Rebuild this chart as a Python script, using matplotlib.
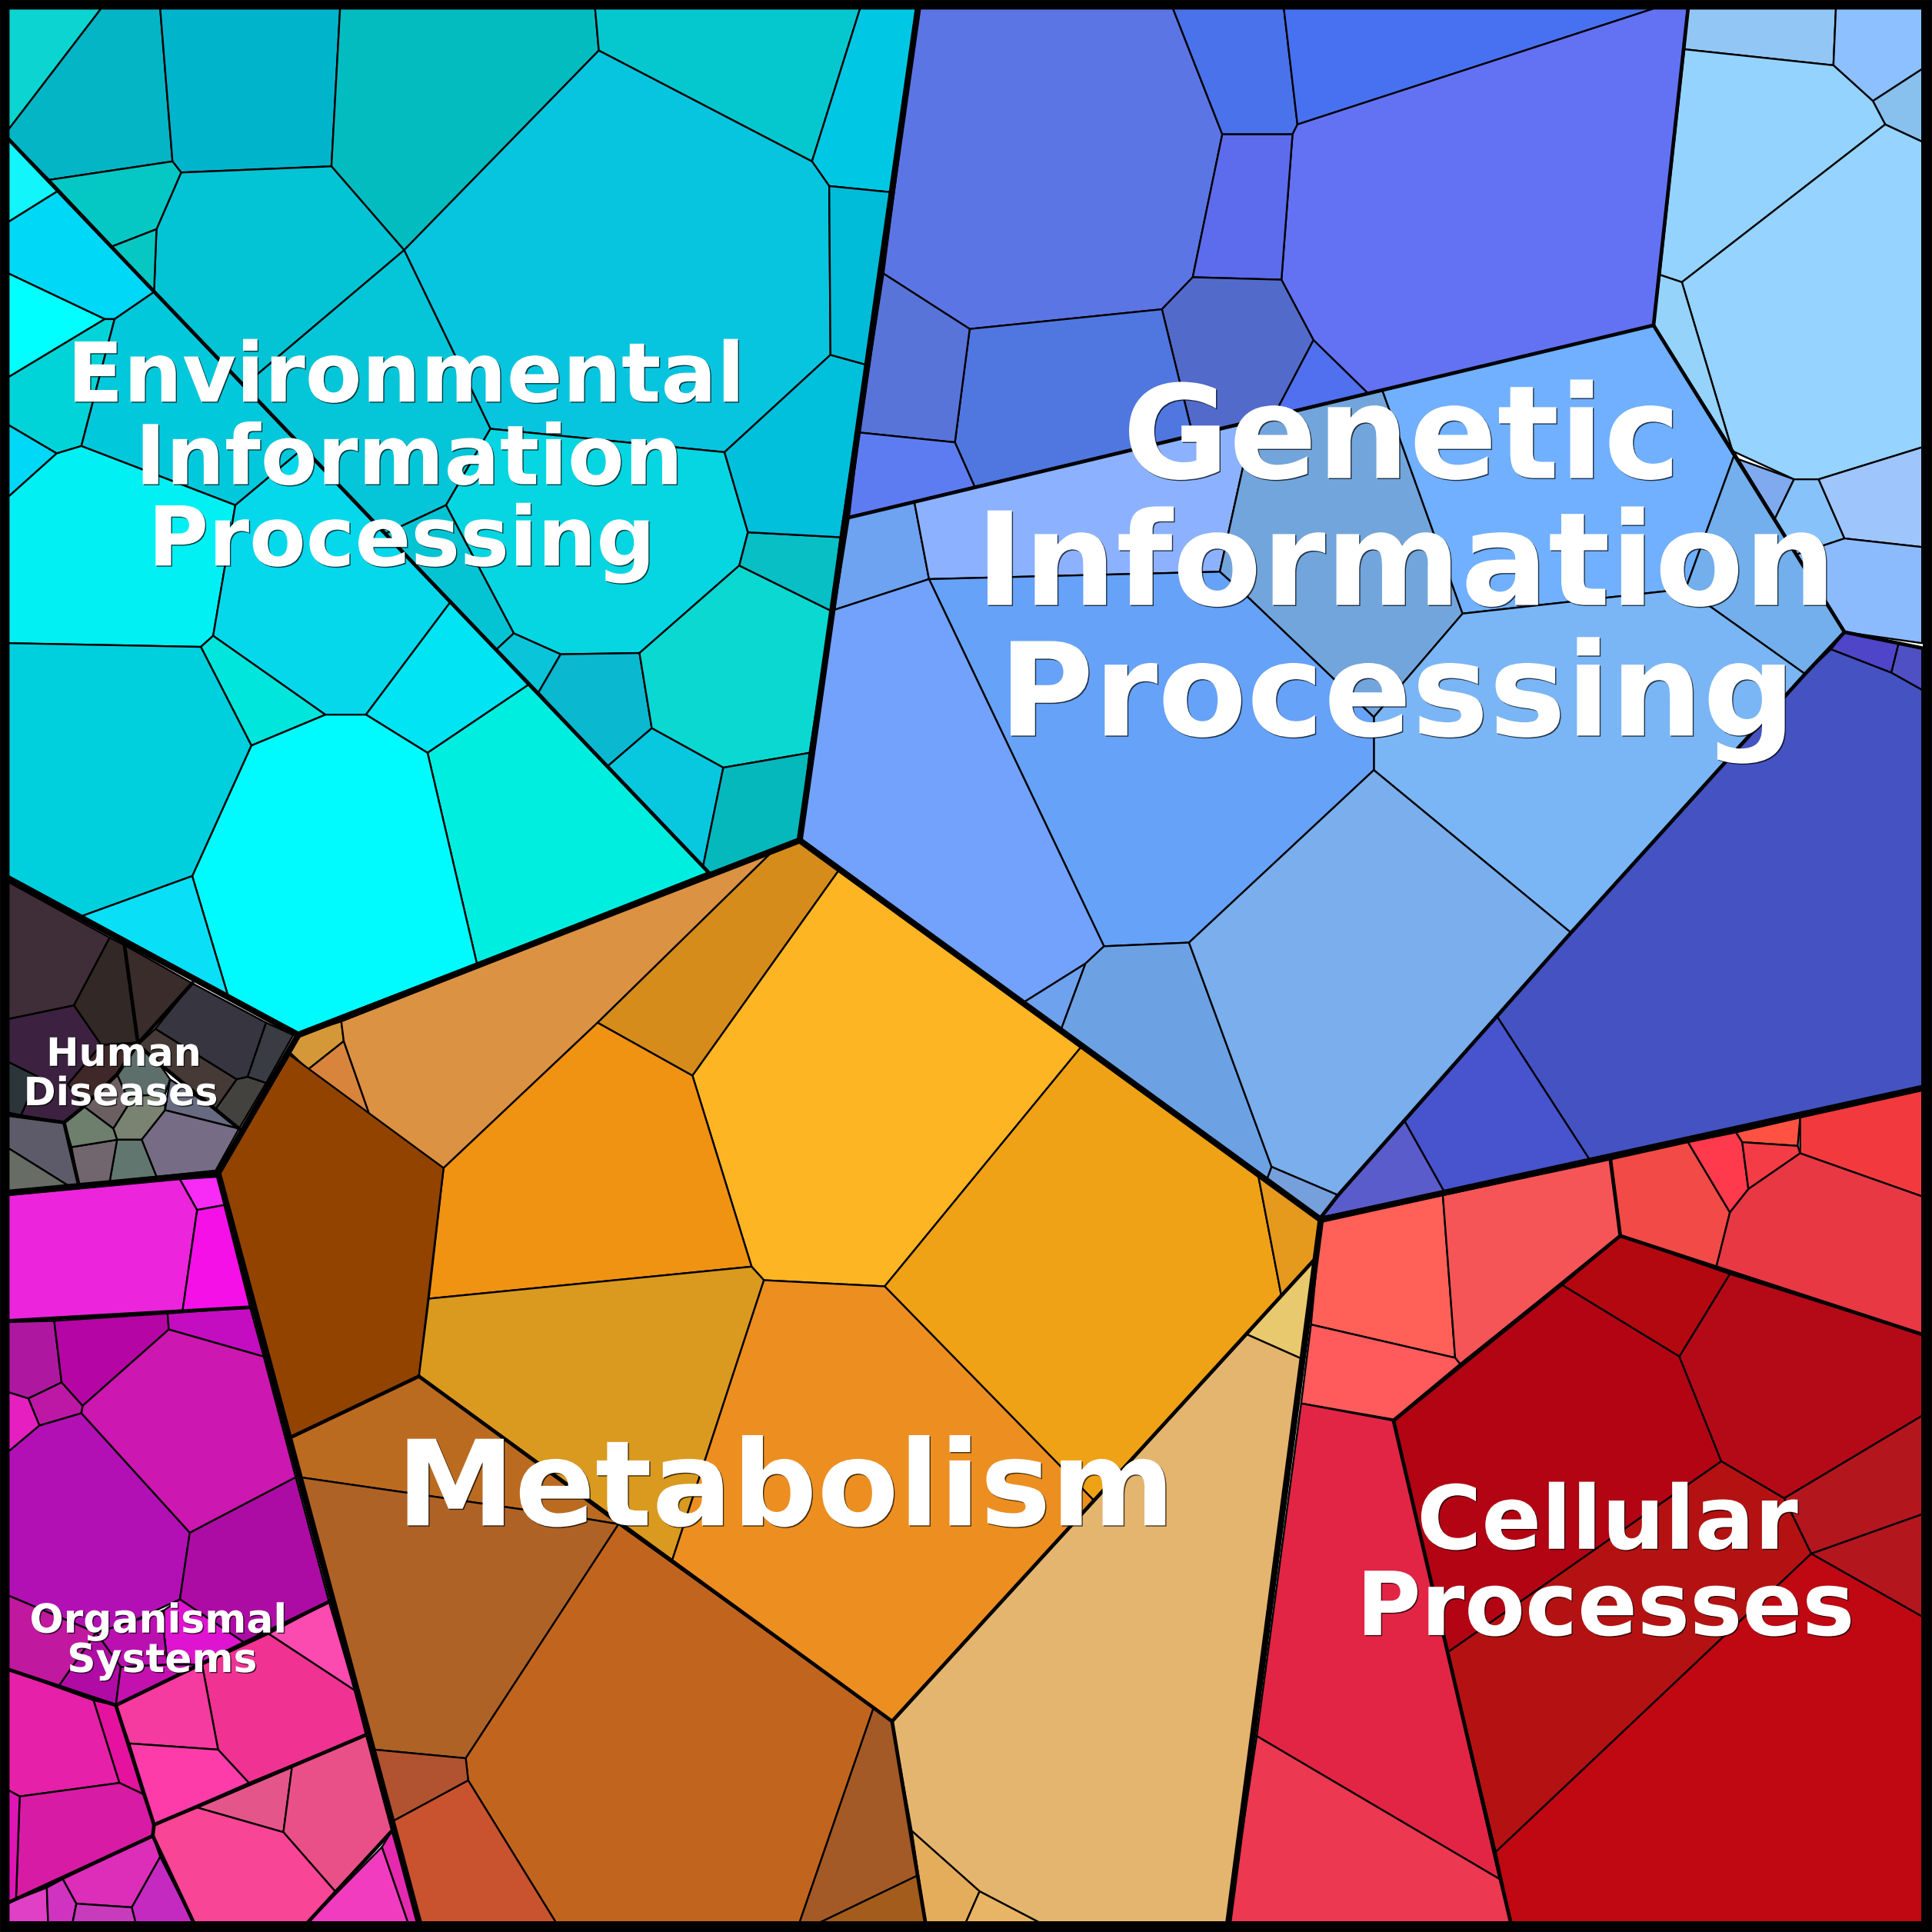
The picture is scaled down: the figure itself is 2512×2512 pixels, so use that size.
# Voronoi treemap of KEGG style categories, cell outlines
import matplotlib
matplotlib.use("Agg")
import matplotlib.pyplot as plt
import matplotlib.patheffects as pe
from matplotlib.patches import Polygon

# Environmental Information Processing
env_cells = [
    [(7,7),(82,7),(7,105)],
    [(82,7),(130,7),(140,131),(40,146),(7,113),(7,105)],
    [(130,7),(276,7),(269,135),(147,140),(140,131)],
    [(276,7),(483,7),(486,41),(328,203),(269,135)],
    [(483,7),(698,7),(659,131),(486,41)],
    [(698,7),(745,7),(723,156),(673,151),(659,131)],
    [(486,41),(659,131),(673,151),(674,288),(588,367),(398,348),(328,203)],
    [(147,140),(269,135),(328,203),(198,313),(125,237),(127,186)],
    [(40,146),(140,131),(147,140),(127,186),(91,200)],
    [(91,200),(127,186),(125,237)],
    [(328,203),(398,348),(362,410),(313,433),(198,313)],
    [(398,348),(588,367),(607,432),(600,459),(519,530),(455,531),(417,514),(362,410)],
    [(362,410),(417,514),(403,527),(313,433)],
    [(417,514),(455,531),(437,562),(403,527)],
    [(455,531),(519,530),(529,591),(493,622),(437,562)],
    [(519,530),(600,459),(675,496),(657,611),(587,623),(529,591)],
    [(600,459),(607,432),(682,436),(675,496)],
    [(588,367),(674,288),(703,296),(682,436),(607,432)],
    [(674,288),(673,151),(723,156),(703,296)],
    [(529,591),(587,623),(570,706),(493,622)],
    [(587,623),(657,611),(649,682),(572,710),(570,706)],
    [(7,113),(47,155),(7,180)],
    [(7,180),(47,155),(125,237),(93,259),(85,259),(7,222)],
    [(7,222),(85,259),(7,306)],
    [(7,306),(85,259),(93,259),(66,362),(46,368),(7,345)],
    [(93,259),(125,237),(246,364),(191,410),(66,362)],
    [(7,345),(46,368),(7,403)],
    [(7,403),(46,368),(66,362),(191,410),(173,516),(163,525),(7,522)],
    [(191,410),(246,364),(366,488),(297,580),(264,580),(173,516)],
    [(366,488),(430,555),(347,611),(297,580)],
    [(430,555),(575,708),(387,782),(347,611)],
    [(264,580),(297,580),(347,611),(387,782),(242,838),(185,808),(156,711),(204,605)],
    [(173,516),(264,580),(204,605),(163,525)],
    [(7,522),(163,525),(204,605),(156,711),(65,744),(7,713)],
    [(65,744),(156,711),(185,808)],
]
env_colors = ["#0cd4d0","#04b5c5","#00b4cc","#03bcc0","#05c8cf","#00c8e4","#08c5df","#02c4d4",
              "#05c8c5","#07c7c3","#04c6d8","#05d6e2","#04c4d4","#0ac5da","#0ab8d0","#0cd8d2",
              "#08bfc6","#00c0dc","#00bcd8","#08c8e0","#05b8bc","#12f5fa","#00d8f8","#00ffff",
              "#00d4d8","#02c8dc","#00d8f8","#00f0f4","#06d8ec","#00e4f4","#00eee0","#00fbff",
              "#00e6dc","#00d0de","#09e0f8"]

# Human Diseases
human_cells = [
    [(7,716),(89,761),(60,816),(7,827)],
    [(89,761),(101,767),(112,846),(82,848),(60,816)],
    [(101,767),(156,798),(112,846)],
    [(156,798),(216,830),(201,874),(192,876),(126,835)],
    [(216,830),(238,840),(216,879),(201,874)],
    [(192,876),(201,874),(216,879),(194,916),(175,900)],
    [(126,835),(192,876),(175,900),(129,863),(112,848)],
    [(82,848),(112,847),(95,872),(68,898),(55,880)],
    [(7,827),(60,816),(82,848),(55,880),(68,898),(52,911),(17,905),(31,874),(7,862)],
    [(7,862),(31,874),(17,905),(7,903)],
    [(112,848),(129,863),(138,876),(134,888),(103,890),(95,872)],
    [(95,872),(103,890),(104,897),(92,916),(68,898)],
    [(103,890),(134,888),(134,901),(115,925),(95,925),(92,916),(104,897)],
    [(138,876),(175,900),(194,916),(134,901)],
    [(134,901),(194,916),(175,950),(127,955),(115,925)],
    [(95,925),(115,925),(127,955),(89,959)],
    [(58,931),(95,925),(89,959),(64,962)],
    [(52,911),(68,898),(92,916),(95,925),(58,931)],
    [(7,905),(52,911),(64,962),(55,962),(7,932)],
    [(7,932),(55,962),(7,968)],
]
human_colors = ["#3f2e38","#322825","#3b2c2c","#363540","#393c42","#43423f","#453a36","#402828",
                "#3c2240","#2c363a","#5e6f6b","#6b5f62","#7a8272","#676a80","#776c85","#627670",
                "#71666e","#6e7f6e","#5d5b69","#676d65"]

# Organismal Systems
organ_cells = [
    [(7,970),(146,957),(160,982),(148,1065),(7,1072)],
    [(146,957),(177,955),(182,978),(160,982)],
    [(160,982),(182,978),(203,1061),(148,1065)],
    [(7,1073),(44,1072),(50,1122),(23,1135),(7,1130)],
    [(44,1072),(136,1066),(137,1079),(67,1141),(50,1122)],
    [(136,1066),(203,1061),(214,1101),(137,1079)],
    [(137,1079),(214,1101),(240,1199),(154,1244),(66,1147),(67,1141)],
    [(50,1122),(67,1141),(66,1147),(32,1157),(23,1135)],
    [(7,1130),(23,1135),(32,1157),(7,1178)],
    [(7,1178),(32,1157),(66,1147),(154,1244),(146,1298),(105,1317),(78,1325),(7,1295)],
    [(154,1244),(240,1199),(267,1300),(198,1333),(146,1298)],
    [(146,1298),(198,1333),(164,1351),(136,1351),(133,1325),(133,1307)],
    [(78,1325),(105,1317),(133,1307),(133,1325),(136,1351),(98,1353)],
    [(7,1295),(78,1325),(48,1368),(7,1355)],
    [(78,1325),(98,1353),(94,1384),(48,1368)],
    [(98,1353),(136,1351),(164,1351),(94,1384)],
    [(267,1300),(288,1372),(218,1326)],
    [(218,1326),(288,1372),(297,1408),(202,1447),(177,1420),(164,1351)],
    [(94,1384),(164,1351),(177,1420),(105,1415)],
    [(105,1415),(177,1420),(202,1447),(125,1481)],
    [(7,1355),(76,1380),(97,1447),(16,1458),(7,1453)],
    [(76,1380),(94,1384),(116,1456),(97,1447)],
    [(16,1458),(97,1447),(116,1456),(125,1481),(124,1490),(13,1541)],
    [(7,1453),(16,1458),(13,1541),(7,1544)],
    [(7,1544),(38,1532),(39,1560),(7,1560)],
    [(38,1532),(51,1525),(62,1545),(59,1560),(39,1560)],
    [(51,1525),(124,1490),(130,1507),(107,1548),(62,1545)],
    [(62,1545),(107,1548),(110,1560),(59,1560)],
    [(130,1507),(157,1560),(110,1560),(107,1548)],
    [(160,1467),(237,1434),(230,1487)],
    [(237,1434),(297,1408),(318,1486),(272,1535),(230,1487)],
    [(125,1481),(160,1467),(230,1487),(272,1535),(250,1560),(157,1560),(124,1490)],
    [(310,1499),(331,1560),(250,1560)],
    [(318,1486),(340,1560),(331,1560),(310,1499)],
]
organ_colors = ["#ec24dc","#f82af5","#f610e8","#ae18a0","#b505a5","#c40cc0","#cc17b0","#bd18a5",
                "#e620c0","#b210b5","#ad0ca4","#de14d0","#ba10b0","#c0189e","#b00ca5","#c510b0",
                "#fb4ab0","#f03392","#f53aa0","#fd3caa","#e620a8","#e512a0","#d81ba5","#e015b5",
                "#e040c5","#cf33c0","#dc2eb8","#c83bbd","#c42ac0","#e4558a","#ea5088","#f94596",
                "#f23cc0","#e52ab0"]

# Metabolism
metab_cells = [
    [(242,840),(277,829),(279,845),(250,868),(234,853)],
    [(279,845),(300,905),(250,868)],
    [(277,829),(627,691),(485,830),(360,948),(300,905),(279,845)],
    [(627,691),(649,682),(681,706),(562,873),(485,830)],
    [(681,706),(878,849),(718,1044),(620,1039),(610,1028),(562,873)],
    [(485,830),(562,873),(610,1028),(348,1054),(360,948)],
    [(878,849),(1021,953),(1040,1052),(888,1218),(718,1044)],
    [(1021,953),(1072,990),(1067,1022),(1040,1052)],
    [(235,856),(360,948),(340,1117),(235,1167),(177,952)],
    [(348,1054),(610,1028),(620,1039),(545,1268),(340,1117)],
    [(620,1039),(718,1044),(888,1218),(724,1397),(545,1268)],
    [(235,1167),(340,1117),(502,1237),(472,1232),(244,1199)],
    [(472,1232),(502,1237),(378,1427),(304,1420),(244,1199)],
    [(502,1237),(709,1386),(649,1560),(451,1560),(380,1445),(378,1427)],
    [(709,1386),(724,1397),(745,1522),(666,1560),(649,1560)],
    [(745,1522),(751,1560),(666,1560)],
    [(304,1420),(378,1427),(380,1445),(319,1478)],
    [(319,1478),(380,1445),(451,1560),(340,1560)],
    [(1067,1022),(1057,1103),(1012,1083)],
    [(1012,1083),(1057,1103),(997,1560),(843,1560),(795,1535),(740,1486),(724,1397)],
    [(740,1486),(795,1535),(784,1560),(751,1560)],
    [(795,1535),(843,1560),(784,1560)],
]
metab_colors = ["#d49838","#d8843c","#db9243","#d58c1a","#fdb524","#f09212","#efa215","#e59a1d",
                "#924300","#da9a1f","#ec8f20","#bb6b20","#ae6226","#c1651e","#a35a26","#a35c1c",
                "#b15330","#c8532e","#e8c96e","#e4b56f","#e4ad5c","#e8b465"]

# Genetic Information Processing
genetic_cells = [
    [(745,7),(952,7),(992,109),(968,225),(943,251),(787,267),(717,222)],
    [(952,7),(1042,7),(1053,101),(1049,109),(992,109)],
    [(1042,7),(1342,7),(1053,101)],
    [(1342,7),(1370,7),(1342,264),(1110,319),(1066,276),(1040,227),(1049,109),(1053,101)],
    [(992,109),(1049,109),(1040,227),(968,225)],
    [(968,225),(1040,227),(1066,276),(1034,337),(968,353),(943,251)],
    [(1066,276),(1110,319),(1034,337)],
    [(943,251),(968,353),(791,395),(775,359),(787,267)],
    [(717,222),(787,267),(775,359),(697,351)],
    [(697,351),(775,359),(791,395),(689,420)],
    [(1370,7),(1490,7),(1488,53),(1367,40)],
    [(1490,7),(1560,7),(1560,56),(1520,82),(1488,53)],
    [(1520,82),(1560,56),(1560,115),(1530,101)],
    [(1367,40),(1488,53),(1520,82),(1530,101),(1365,229),(1347,223)],
    [(1530,101),(1560,115),(1560,363),(1476,389),(1456,389),(1406,366),(1365,229)],
    [(1347,223),(1365,229),(1406,366),(1342,264)],
    [(1409,372),(1456,389),(1440,422)],
    [(1456,389),(1476,389),(1497,437),(1458,450),(1440,422)],
    [(1476,389),(1560,363),(1560,444),(1497,437)],
    [(1458,450),(1497,437),(1560,444),(1560,522),(1497,513)],
    [(689,420),(742,407),(754,470),(677,495)],
    [(742,407),(1017,342),(990,464),(754,470)],
    [(1017,342),(1122,317),(1187,498),(1115,582),(1010,482),(990,464)],
    [(1122,317),(1342,264),(1408,368),(1368,478),(1187,498)],
    [(1408,368),(1497,513),(1465,547),(1368,478)],
    [(1187,498),(1368,478),(1465,547),(1275,757),(1115,625),(1115,582)],
    [(754,470),(990,464),(1010,482),(1115,582),(1115,625),(965,765),(896,768)],
    [(677,495),(754,470),(896,768),(881,782),(830,814),(649,682)],
    [(881,782),(861,836),(830,814)],
    [(896,768),(965,765),(1032,947),(1028,958),(861,836),(881,782)],
    [(965,765),(1115,625),(1275,757),(1086,970),(1032,947)],
    [(1032,947),(1086,970),(1072,988),(1028,958)],
    [(1497,513),(1541,522),(1535,546),(1486,527)],
    [(1541,522),(1560,526),(1560,560),(1535,546)],
    [(1486,527),(1535,546),(1560,560),(1560,883),(1290,941),(1215,825),(1275,757),(1465,547)],
    [(1215,825),(1290,941),(1172,967),(1140,910)],
    [(1140,910),(1172,967),(1072,988),(1086,970)],
]
genetic_colors = ["#5c75e5","#4a72ea","#4871f2","#6372f2","#5c6cec","#526bca","#5070f0","#5077e0",
                  "#5874d9","#5e7cf2","#92c6f5","#8cc0ff","#88c0ee","#95d3ff","#96d3ff","#96d3fa",
                  "#7faaf0","#88c2fb","#9fc5fd","#8cbbfd","#6da3f0","#8cb2ff","#72a5dc","#70b0ff",
                  "#72afec","#7ab6f5","#66a2f8","#72a2fc","#6ea1ee","#6ca2e4","#7aaeec","#76a0dc",
                  "#4e45c8","#4f50c4","#4552c2","#4853ce","#5a5ccb"]

# Cellular Processes
cell_cells = [
    [(1072,990),(1171,970),(1181,1102),(1064,1075)],
    [(1171,970),(1307,941),(1315,1003),(1185,1107),(1181,1102)],
    [(1307,941),(1370,927),(1404,984),(1393,1028),(1315,1003)],
    [(1370,927),(1409,919),(1414,927),(1419,965),(1404,984)],
    [(1409,919),(1461,907),(1459,930),(1414,927)],
    [(1414,927),(1459,930),(1461,936),(1419,965)],
    [(1461,907),(1560,885),(1560,971),(1461,936)],
    [(1461,936),(1560,971),(1560,1083),(1404,1034),(1393,1028),(1404,984),(1419,965)],
    [(1064,1075),(1181,1102),(1185,1107),(1131,1152),(1056,1139)],
    [(1056,1139),(1131,1153),(1217,1525),(1020,1409)],
    [(1020,1409),(1217,1525),(1226,1560),(997,1560)],
    [(1268,1043),(1315,1003),(1404,1034),(1363,1101)],
    [(1131,1153),(1268,1043),(1363,1101),(1397,1186),(1175,1341)],
    [(1404,1034),(1560,1083),(1560,1149),(1448,1216),(1397,1186),(1363,1101)],
    [(1448,1216),(1560,1149),(1560,1229),(1470,1261)],
    [(1470,1261),(1560,1229),(1560,1312)],
    [(1397,1186),(1448,1216),(1470,1261),(1214,1503),(1175,1341)],
    [(1470,1261),(1560,1312),(1560,1560),(1226,1560),(1214,1503)],
]
cell_colors = ["#ff6058","#f65558","#f24a46","#fe3a4c","#ff5242","#f43c46","#f23a3e","#e83844",
               "#ff5a5c","#e22545","#ec3850","#b30810","#b30414","#b40a18","#b4161e","#b4161e",
               "#b41212","#bf0812"]

# second level borders
mid_lines = [
    [(7,113),(575,708)],
    [(101,767),(112,847),(156,798)],
    [(112,847),(95,872),(68,898),(52,911),(7,905)],
    [(52,911),(64,962)],
    [(112,848),(129,863),(194,916)],
    [(7,1072),(203,1061)],
    [(267,1300),(94,1384),(7,1355)],
    [(94,1384),(125,1481),(124,1490),(7,1544)],
    [(125,1481),(297,1408)],
    [(124,1490),(157,1560)],
    [(318,1486),(250,1560)],
    [(340,1117),(724,1397),(1067,1022)],
    [(724,1397),(751,1560)],
    [(235,1167),(340,1117)],
    [(689,420),(1342,264),(1370,7)],
    [(1342,264),(1497,513),(1560,526)],
    [(1497,513),(1465,547),(1275,757),(1086,970),(1072,988)],
    [(1131,1153),(1315,1003),(1560,1083)],
    [(1307,941),(1315,1003)],
    [(1131,1153),(1226,1560)],
]
# top level borders
top_lines = [
    [(745,7),(649,682),(242,840),(7,713)],
    [(649,682),(1072,990),(1560,883)],
    [(1072,990),(997,1560)],
    [(242,840),(177,952),(340,1560)],
    [(177,952),(7,968)],
]

# one entry per text line, y is the baseline
label_text = ["Environmental", "Information", "Processing",
              "Genetic", "Information", "Processing",
              "Metabolism", "Cellular", "Processes",
              "Organismal", "Systems", "Human", "Diseases"]
label_x = [329.5, 332, 326, 1137.5, 1141, 1134, 637.5, 1304.5, 1303, 128.5, 131.5, 100.5, 98]
label_y = [326, 393, 459, 388, 491, 597, 1238, 1257, 1327, 1325, 1357, 865, 897]
label_size = [77.3, 77.3, 77.3, 121.4, 121.4, 121.4, 111.2, 82.6, 82.6, 37.4, 37.4, 36.5, 36.5]

fig = plt.figure(figsize=(25.12, 25.12), dpi=100)
ax = fig.add_axes([0, 0, 1, 1])
ax.set_xlim(0, 1568)
ax.set_ylim(1568, 0)
ax.axis("off")

all_cells = env_cells + human_cells + organ_cells + metab_cells + genetic_cells + cell_cells
all_colors = env_colors + human_colors + organ_colors + metab_colors + genetic_colors + cell_colors
for pts, col in zip(all_cells, all_colors):
    ax.add_patch(Polygon(pts, closed=True, facecolor=col, edgecolor="black", linewidth=1.7, joinstyle="round"))

for line in mid_lines:
    ax.plot([p[0] for p in line], [p[1] for p in line], color="black", lw=3.4, solid_joinstyle="round")
for line in top_lines:
    ax.plot([p[0] for p in line], [p[1] for p in line], color="black", lw=5.8, solid_joinstyle="round")

# outer frame
ax.plot([3.7, 1564.3, 1564.3, 3.7, 3.7], [3.7, 3.7, 1564.3, 1564.3, 3.7], color="black", lw=8.6, solid_joinstyle="miter")

shadow = [pe.SimplePatchShadow(offset=(1, -1), shadow_rgbFace="black", alpha=0.7), pe.Normal()]
for txt, x, y, s in zip(label_text, label_x, label_y, label_size):
    ax.text(x, y, txt, color="white", fontsize=s, fontweight="bold", family="DejaVu Sans",
            ha="center", va="baseline", path_effects=shadow)

fig.savefig("out.png", dpi=100)
